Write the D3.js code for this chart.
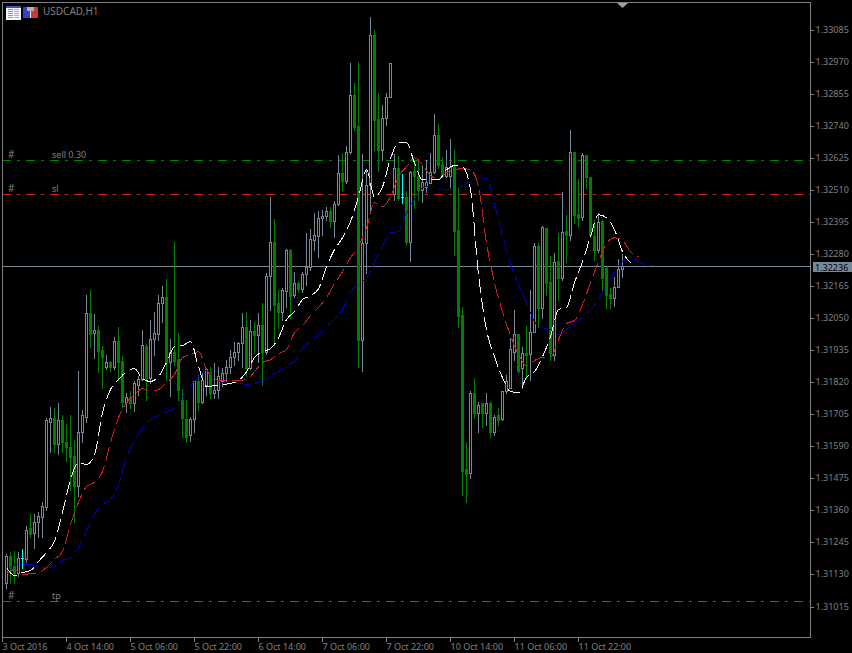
<!DOCTYPE html>
<html><head><meta charset="utf-8">
<script src="https://cdn.jsdelivr.net/npm/d3@7"></script>
<style>html,body{margin:0;padding:0;background:#000;overflow:hidden}svg{display:block}text{font-family:"Noto Sans",Tahoma,sans-serif;font-size:9px}</style>
</head><body><svg id="c" width="852" height="653"></svg>
<script>
// Prices are in points (1/100000)
const highs=[131202,131209,131213,131209,131220,131303,131346,131346,131353,131389,131693,131733,131729,131744,131704,131672,131704,131614,131862,131722,132135,132153,132067,132023,131952,131919,131898,131984,132020,131916,131783,131790,131823,131841,132009,131959,132045,132074,132135,132167,132192,131977,132325,131998,131797,131758,131697,131830,131848,131858,131873,131876,131891,131876,131873,131901,131937,131966,131966,132070,132074,132045,132038,132070,132106,132214,132486,132407,132153,132160,132300,132300,132217,132185,132217,132357,132371,132429,132436,132440,132450,132450,132472,132637,132644,132669,132967,132895,132971,132641,132583,133132,133085,132859,132816,132859,132967,132641,132633,132569,132508,132580,132608,132623,132601,132619,132644,132784,132748,132630,132655,132694,132655,132522,132092,131607,131790,131837,131751,131747,131783,131751,131704,131726,131790,131848,131980,132081,131995,131945,132023,132153,132321,132321,132382,132375,132275,132285,132357,132504,132422,132727,132648,132551,132644,132637,132558,132404,132429,132404,132235,132160,132199,132264,132282];
const opens=[131101,131195,131163,131137,131188,131184,131296,131278,131317,131335,131371,131679,131693,131597,131686,131604,131589,131557,131449,131640,131697,132070,131998,132009,131937,131876,131894,131876,131970,131898,131751,131769,131747,131812,131833,131952,131837,131977,131995,132103,132128,131894,131930,131905,131758,131690,131629,131690,131823,131751,131812,131858,131780,131794,131823,131855,131876,131912,131930,131962,132020,131873,132005,131991,132027,131930,132203,132325,132106,132074,132149,132296,132135,132178,132156,132210,132235,132332,132346,132411,132418,132436,132400,132461,132572,132544,132648,132852,132741,131973,132321,132529,133067,132766,132655,132770,132845,132497,132590,132485,132486,132325,132580,132562,132511,132522,132536,132576,132709,132605,132562,132562,132594,132368,132063,131507,131493,131780,131711,131744,131711,131747,131643,131701,131690,131787,131801,131930,131995,131873,131927,131923,132002,132310,132088,132375,132181,131919,132257,132196,132364,132350,132648,132425,132414,132637,132558,132346,132296,132400,132232,132138,132124,132163,132228];
const closes=[131195,131155,131137,131188,131188,131288,131274,131317,131339,131375,131683,131693,131597,131686,131604,131586,131553,131449,131640,131701,132070,131995,132009,131934,131912,131894,131876,131970,131894,131751,131769,131747,131816,131833,131955,131837,131977,131998,132106,132128,131894,131930,131898,131794,131693,131625,131690,131823,131751,131830,131866,131780,131794,131841,131855,131876,131912,131930,131962,132020,131873,132005,131991,132027,131930,132203,132325,132099,132074,132153,132296,132131,132178,132156,132210,132235,132336,132350,132411,132418,132436,132400,132461,132572,132544,132648,132852,132737,131973,132321,132529,133067,132762,132655,132770,132845,132967,132590,132483,132485,132325,132576,132562,132511,132540,132540,132576,132709,132601,132562,132594,132594,132364,132059,131503,131489,131780,131711,131740,131711,131747,131643,131697,131686,131790,131823,131941,131995,131862,131927,131919,132002,132310,132088,132379,132178,131927,132253,132196,132361,132350,132648,132422,132411,132637,132558,132350,132296,132397,132196,132135,132124,132163,132228,132236];
const lows=[131083,131101,131101,131123,131155,131173,131263,131224,131263,131263,131363,131571,131568,131561,131568,131536,131435,131317,131410,131604,131679,131945,131909,131858,131801,131869,131862,131869,131830,131733,131715,131729,131718,131776,131830,131758,131819,131919,131973,132038,131830,131772,131883,131758,131622,131607,131611,131640,131722,131744,131776,131765,131765,131765,131805,131823,131855,131883,131901,131876,131841,131869,131927,131894,131812,131923,132081,131955,132016,132045,132092,132052,132128,132145,132145,132170,132224,132296,132271,132350,132404,132379,132343,132458,132511,132536,132644,132727,131876,131862,132214,132429,132655,132580,132619,132745,132845,132475,132475,132465,132314,132257,132447,132475,132468,132504,132536,132572,132590,132558,132558,132522,132278,132020,131414,131392,131478,131693,131643,131661,131668,131625,131629,131668,131686,131783,131801,131901,131855,131801,131837,131830,132002,132020,132052,132135,131901,131901,132117,132188,132253,132332,132393,132382,132404,132519,132343,132260,132289,132145,132088,132088,132095,132163,132199];

// Moving averages, one reading every second bar
const whiteLine=[131155,131126,131137,131144,131177,131209,131249,131353,131471,131532,131525,131561,131711,131794,131830,131858,131869,131833,131823,131841,131891,131948,131952,131966,131876,131805,131808,131812,131816,131826,131858,131909,131930,131941,131980,132045,132074,132117,132131,132156,132235,132296,132339,132397,132486,132583,132486,132522,132623,132680,132680,132608,132547,132547,132547,132583,132598,132594,132511,132206,132009,131912,131837,131787,131783,131837,131858,131912,131984,132081,132088,132178,132253,132343,132422,132411,132368,132289,132250];
const redLine=[131130,131148,131130,131133,131137,131155,131184,131213,131310,131389,131446,131461,131500,131604,131693,131747,131776,131797,131787,131794,131819,131848,131909,131919,131930,131866,131830,131826,131826,131826,131830,131858,131891,131901,131923,131937,131998,132023,132059,132088,132124,132174,132217,132267,132310,132375,132465,132450,132486,132558,132594,132626,132601,132562,132551,132572,132583,132587,132583,132522,132321,132178,132074,131988,131919,131880,131898,131909,131909,131973,132031,132042,132099,132178,132253,132318,132339,132329,132289,132271];
const blueLine=[131141,131163,131166,131166,131155,131155,131159,131180,131191,131227,131285,131346,131382,131399,131453,131550,131611,131654,131686,131701,131715,131726,131769,131805,131841,131862,131837,131819,131816,131816,131812,131816,131826,131844,131858,131880,131894,131941,131966,131991,132020,132045,132081,132146,132171,132196,132250,132310,132357,132361,132429,132479,132518,132526,132518,132511,132515,132526,132540,132554,132551,132458,132346,132246,132171,132106,132038,132016,132009,131991,132009,132034,132052,132081,132117,132171,132217,132253,132271,132253,132242,132239];

const priceTicks=[133085,132970,132855,132740,132625,132510,132395,132280,132165,132050,131935,131820,131705,131590,131475,131360,131245,131130,131015];
const timeTicks=[-1,15,31,47,63,79,95,111,127,143];
const timeLabels=["3 Oct 2016","4 Oct 14:00","5 Oct 06:00","5 Oct 22:00","6 Oct 14:00","7 Oct 06:00","7 Oct 22:00","10 Oct 14:00","11 Oct 06:00","11 Oct 22:00"];
const levels=[{name:"sell 0.30",price:132617,color:"#008000"},{name:"sl",price:132497,color:"#d81e1e"},{name:"tp",price:131035,color:"#c02c2c"}];
const lastPrice=132236;
const title="USDCAD,H1";

const svg=d3.select("#c");
const axisCol="#808080",grayCol="#778899",greenCol="#008000";
const x=d3.scaleLinear().domain([0,154]).range([6,622]);
const y=d3.scaleLinear().domain([133085,131015]).range([30,606.5]);
const px=v=>Math.round(y(v));
const gBack=svg.append("g"),gCandle=svg.append("g").attr("shape-rendering","crispEdges"),gLines=svg.append("g").attr("shape-rendering","crispEdges"),gFrame=svg.append("g");

// order levels
levels.forEach(l=>{
  gBack.append("line").attr("x1",2).attr("x2",810).attr("y1",px(l.price)+.5).attr("y2",px(l.price)+.5)
    .attr("stroke",l.color).attr("stroke-dasharray","9,6,3,6");
  gBack.append("text").attr("x",8).attr("y",px(l.price)-2).attr("fill",axisCol).attr("font-size","10px").style("font-size","10px").text("#");
  gBack.append("text").attr("x",52).attr("y",px(l.price)-2).attr("fill",axisCol).text(l.name);
});
// last price line
gBack.append("line").attr("x1",2).attr("x2",810).attr("y1",px(lastPrice)+.5).attr("y2",px(lastPrice)+.5).attr("stroke",grayCol);

// candles
const bars=d3.range(highs.length).map(i=>({i,h:highs[i],o:opens[i],c:closes[i],l:lows[i]}));
const colorOf=d=>d.o===d.c?"#00ffff":(d.c>d.o?grayCol:greenCol);
const sel=gCandle.selectAll("g").data(bars).join("g");
sel.append("line").attr("x1",d=>x(d.i)+.5).attr("x2",d=>x(d.i)+.5).attr("y1",d=>px(d.h)).attr("y2",d=>px(d.l)+1).attr("stroke",colorOf);
sel.filter(d=>d.o!==d.c).append("rect")
  .attr("x",d=>x(d.i)-.5).attr("width",2)
  .attr("y",d=>px(Math.max(d.o,d.c))+.5).attr("height",d=>Math.max(1,px(Math.min(d.o,d.c))-px(Math.max(d.o,d.c))))
  .attr("fill",d=>d.c>d.o?"#000":greenCol).attr("stroke",colorOf);
sel.filter(d=>d.o===d.c).append("line").attr("x1",d=>x(d.i)-1).attr("x2",d=>x(d.i)+2)
  .attr("y1",d=>px(d.o)+.5).attr("y2",d=>px(d.o)+.5).attr("stroke","#00ffff");

// moving averages
const lineGen=d3.line().x((d,i)=>x(i*2)+.5).y(d=>y(d)).curve(d3.curveMonotoneX);
[[blueLine,"#0000c0"],[redLine,"#d01c24"],[whiteLine,"#f8f8f8"]].forEach(([vals,col])=>{
  gLines.append("path").attr("d",lineGen(vals)).attr("fill","none").attr("stroke",col).attr("stroke-width",1).attr("stroke-dasharray","14,5");
});

// frame and axes
gFrame.append("rect").attr("x",2.5).attr("y",2.5).attr("width",808).attr("height",635).attr("fill","none").attr("stroke",axisCol).attr("shape-rendering","crispEdges");
const ay=gFrame.append("g").attr("transform","translate(810.5,0)").attr("shape-rendering","crispEdges")
  .call(d3.axisRight(y).tickValues(priceTicks).tickSize(3).tickPadding(2).tickFormat(d=>(d/1e5).toFixed(5)));
ay.select(".domain").remove();
ay.selectAll("line").attr("stroke",axisCol);ay.selectAll("text").attr("fill",axisCol).attr("font-family",null).attr("font-size",null).attr("shape-rendering",null);
ay.selectAll(".tick").attr("transform",d=>`translate(0,${Math.round(y(d))+.5})`);
const ax=gFrame.append("g").attr("transform","translate(0,637.5)").attr("shape-rendering","crispEdges")
  .call(d3.axisBottom(x).tickValues(timeTicks).tickSize(4).tickFormat((d,i)=>timeLabels[i]));
ax.select(".domain").remove();
ax.selectAll("line").attr("stroke",axisCol);
ax.selectAll("text").attr("fill",axisCol).attr("text-anchor","start").attr("y",6).attr("dy","0.71em");
ax.selectAll(".tick").attr("transform",d=>`translate(${x(d)+.5},0)`);

// last price tag
gFrame.append("rect").attr("x",813).attr("y",px(lastPrice)-4).attr("width",39).attr("height",10).attr("fill",grayCol);
gFrame.append("text").attr("x",815).attr("y",px(lastPrice)+5).attr("fill","#000").text((lastPrice/1e5).toFixed(5));

// header
gFrame.append("text").attr("x",43).attr("y",15).attr("fill",axisCol).style("font-size","10px").text(title);
const ic=gFrame.append("g").attr("shape-rendering","crispEdges");
ic.append("rect").attr("x",6).attr("y",6).attr("width",15).attr("height",14).attr("fill","#f4f4ff");
ic.append("rect").attr("x",6).attr("y",6).attr("width",15).attr("height",2).attr("fill","#4050c0");
d3.range(9,18,2).forEach(v=>{
  ic.append("rect").attr("x",8).attr("y",v).attr("width",5).attr("height",1).attr("fill","#f07868");
  ic.append("rect").attr("x",14).attr("y",v).attr("width",5).attr("height",1).attr("fill","#98b0f0");
});
ic.append("rect").attr("x",23).attr("y",7).attr("width",7).attr("height",11).attr("fill","#3040d0");
ic.append("rect").attr("x",31).attr("y",7).attr("width",7).attr("height",11).attr("fill","#c83838");
ic.append("rect").attr("x",27).attr("y",7).attr("width",7).attr("height",4).attr("fill","#b0b0b0");
ic.append("rect").attr("x",30).attr("y",11).attr("width",1).attr("height",7).attr("fill","#e8e8e8");
gFrame.append("path").attr("d",d3.line()([[617,3],[628,3],[622.5,8]])+"Z").attr("fill","#a0a0a0");
</script></body></html>
